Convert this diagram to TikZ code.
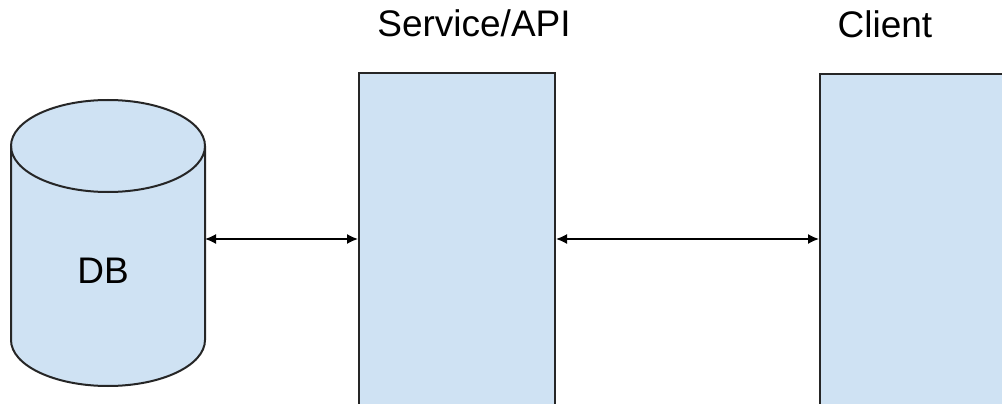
\documentclass[tikz,border=0pt]{standalone}
\usepackage{fontspec}
\setmainfont{Liberation Sans}
\usetikzlibrary{arrows.meta}
\definecolor{boxfill}{HTML}{CFE2F3}
\definecolor{edge}{HTML}{262626}
\tikzset{
  panel/.style={draw=edge, fill=boxfill, line width=2pt, rectangle, inner sep=0pt, anchor=north west},
  lbl/.style={font=\fontsize{37}{44}\selectfont, text=black, inner sep=0pt},
  link/.style={draw=black, line width=1.6pt, {Latex[length=11pt,width=10pt]}-{Latex[length=11pt,width=10pt]}},
}
\begin{document}
\begin{tikzpicture}[x=1pt,y=1pt]
  \useasboundingbox (0,0) rectangle (1002,-404);
  \clip (0,0) rectangle (1002,-404);
  % database cylinder
  \draw[draw=edge, fill=boxfill, line width=2pt]
    (11,-146) -- (11,-340) arc (180:360:97 and 46) -- (205,-146) arc (0:180:97 and 46) -- cycle;
  \draw[draw=edge, line width=2pt] (11,-146) arc (180:360:97 and 46);
  \coordinate (dbE) at (205,-239);
  \node[lbl] (db) at (103,-271) {DB};
  % service and client columns
  \node[panel, minimum width=196pt, minimum height=360pt] (svc) at (358,-72) {};
  \node[panel, minimum width=200pt, minimum height=360pt] (cli) at (819,-73) {};
  \node[lbl, anchor=base] (svcT) at (474,-37) {Service/API};
  \node[lbl, anchor=base] (cliT) at (885,-38) {Client};
  % connections
  \coordinate (row) at (0,-239);
  \draw[link] (dbE) -- (svc.west |- row);
  \draw[link] (svc.east |- row) -- (cli.west |- row);
\end{tikzpicture}
\end{document}
